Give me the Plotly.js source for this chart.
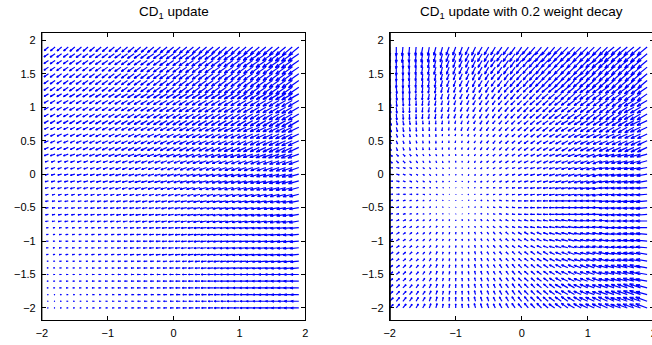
<!DOCTYPE html>
<html><head><meta charset="utf-8">
<script src="https://cdn.plot.ly/plotly-3.0.1.min.js"></script>
<style>html,body{margin:0;padding:0;background:#fff;overflow:hidden;width:652px;height:345px}#chart{width:660px;height:345px}</style>
</head><body><div id="chart"></div>
<script>
// ---- data ----
const xGrid = [-2,-1.9,-1.8,-1.7,-1.6,-1.5,-1.4,-1.3,-1.2,-1.1,-1,-0.9,-0.8,-0.7,-0.6,-0.5,-0.4,-0.3,-0.2,-0.1,0,0.1,0.2,0.3,0.4,0.5,0.6,0.7,0.8,0.9,1,1.1,1.2,1.3,1.4,1.5,1.6,1.7,1.8,1.9];
const yGrid = [1.9,1.8,1.7,1.6,1.5,1.4,1.3,1.2,1.1,1,0.9,0.8,0.7,0.6,0.5,0.4,0.3,0.2,0.1,0,-0.1,-0.2,-0.3,-0.4,-0.5,-0.6,-0.7,-0.8,-0.9,-1,-1.1,-1.2,-1.3,-1.4,-1.5,-1.6,-1.7,-1.8,-1.9,-2];
const xTicks = [-2,-1,0,1,2];
const xTickText = ["\u22122","\u22121","0","1","2"];
const yTicks = [-2,-1.5,-1,-0.5,0,0.5,1,1.5,2];
const yTickText = ["\u22122","\u22121.5","\u22121","\u22120.5","0","0.5","1","1.5","2"];
const titleLeft = "CD<sub>1</sub> update";
const titleRight = "CD<sub>1</sub> update with 0.2 weight decay";

// direction code: index * 5 degrees ; length code: index * 0.5 (reading units)
const ANGLE_CODES = "0123456789abcdefghijklmnopqrstuvwxyzABCDEFGHIJKLMNOPQRSTUVWXYZ!#$%&*+-=?";
const LENGTH_CODES = "0123456789abcdefghijklmnopqrstuvwxyz";

// rows from top (y=1.9) to bottom (y=-2), columns from x=-2 to x=1.9
const leftAngle = [
"IIIIIIIIIIIIIIIIIIIIIIIIIIIIIIIIIIIIIIII",
"HHHHHHHHHHHHHHHHHHHHHHHHHHHHHHHHHHHHHHHH",
"HHHHHHHHHHHHHHHHHHHHHHHHHHHHHHHHHHHHHHHH",
"HHHHHHHHHHHHHHHHHHHHHHHHHHHHHHHHHHHHHHHH",
"HHHHHHHHHHHHHHHHHHHHHHHHHHHHHHHHHHHHHHHH",
"HHHHHHHHHHHHHHHHHHHHHHHHHHHHHHHHHHHHHHHH",
"HHHHHHHHHHHHHHHHHHHHHHHHHHHHHHHHHHHHHHHH",
"GGGGGGGGGGGGGGGGGGGGGGGGGGGGGGGGGGGGGGGG",
"GGGGGGGGGGGGGGGGGGGGGGGGGGGGGGGGGGGGGGGG",
"GGGGGGGGGGGGGGGGGGGGGGGGGGGGGGGGGGGGGGGG",
"GGGGGGGGGGGGGGGGGGGGGGGGGGGGGGGGGGGGGGGG",
"GGGGGGGGGGGGGGGGGGGGGGGGGGGGGGGGGGGGGGGG",
"FFFFFFFFFFFFFFFFFFFFFFFFFFFFFFFFFFFFFFFF",
"FFFFFFFFFFFFFFFFFFFFFFFFFFFFFFFFFFFFFFFF",
"FFFFFFFFFFFFFFFFFFFFFFFFFFFFFFFFFFFFFFFF",
"FFFFFFFFFFFFFFFFFFFFFFFFFFFFFFFFFFFFFFFF",
"EEEEEEEEEEEEEEEEEEEEEEEEEEEEEEEEEEEEEEEE",
"EEEEEEEEEEEEEEEEEEEEEEEEEEEEEEEEEEEEEEEE",
"EEEEEEEEEEEEEEEEEEEEEEEEEEEEEEEEEEEEEEEE",
"DDDDDDDDDDDDDDDDDDDDDDDDDDDDDDDDDDDDDDDD",
"DDDDDDDDDDDDDDDDDDDDDDDDDDDDDDDDDDDDDDDD",
"DDDDDDDDDDDDDDDDDDDDDDDDDDDDDDDDDDDDDDDD",
"DDDDDDDDDDDDDDDDDDDDDDDDDDDDDDDDDDDDDDDD",
"CCCCCCCCCCCCCCCCCCCCCCCCCCCCCCCCCCCCCCCC",
"CCCCCCCCCCCCCCCCCCCCCCCCCCCCCCCCCCCCCCCC",
"CCCCCCCCCCCCCCCCCCCCCCCCCCCCCCCCCCCCCCCC",
"CCCCCCCCCCCCCCCCCCCCCCCCCCCCCCCCCCCCCCCC",
"BBBBBBBBBBBBBBBBBBBBBBBBBBBBBBBBBBBBBBBB",
"BBBBBBBBBBBBBBBBBBBBBBBBBBBBBBBBBBBBBBBB",
"BBBBBBBBBBBBBBBBBBBBBBBBBBBBBBBBBBBBBBBB",
"BBBBBBBBBBBBBBBBBBBBBBBBBBBBBBBBBBBBBBBB",
"BBBBBBBBBBBBBBBBBBBBBBBBBBBBBBBBBBBBBBBB",
"BBBBBBBBBBBBBBBBBBBBBBBBBBBBBBBBBBBBBBBB",
"BBBBBBBBBBBBBBBBBBBBBBBBBBBBBBBBBBBBBBBB",
"AAAAAAAAAAAAAAAAAAAAAAAAAAAAAAAAAAAAAAAA",
"AAAAAAAAAAAAAAAAAAAAAAAAAAAAAAAAAAAAAAAA",
"AAAAAAAAAAAAAAAAAAAAAAAAAAAAAAAAAAAAAAAA",
"AAAAAAAAAAAAAAAAAAAAAAAAAAAAAAAAAAAAAAAA",
"AAAAAAAAAAAAAAAAAAAAAAAAAAAAAAAAAAAAAAAA",
"AAAAAAAAAAAAAAAAAAAAAAAAAAAAAAAAAAAAAAAA"
];
const leftLength = [
"bbcccddddeeeffggghhiiijjkkkllmmmnnooppqq",
"bbcccddddeeeffggghhiiijjkkkllmmmnnooppqq",
"bbcccddddeeeffggghhiiijjkkkllmmmnnooppqq",
"bbcccddddeeeffggghhiiijjjkkkklllmmnnoopp",
"bbcccddddeeeffggghhiiijjjkkkklllmmnnoopp",
"bbcccddddeeeffggghhiiijjjkkkklllmmnnoopp",
"bbcccddddeeeffggghhiiijjjkkkklllmmnnoopp",
"aabbbccccdddeefffgghhhiiijjjjkkkllmmnnoo",
"aabbbccccdddeefffgghhhiiijjjjkkkllmmnnoo",
"aabbbccccdddeefffgghhhiiijjjjkkkllmmnnoo",
"aabbbccccdddeefffgghhhiiijjjjkkkllmmnnoo",
"aabbbccccdddeefffgghhhiiijjjjkkkllmmnnoo",
"99aaaabbbcccdddeeeefffgghhhiijjjkkllmmnn",
"99aaaabbbcccdddeeeefffgghhhiijjjkkllmmnn",
"99aaaabbbcccdddeeeefffgghhhiijjjkkllmmnn",
"99aaaabbbcccdddeeeefffgghhhiijjjkkllmmnn",
"99aaaabbbcccdddeeeefffgghhhiijjjkkllmmnn",
"778889999aaabbbccccdddeefffgghhhiijjkkll",
"778889999aaabbbccccdddeefffgghhhiijjkkll",
"778889999aaabbbccccdddeefffgghhhiijjkkll",
"778889999aaabbbccccdddeefffgghhhiijjkkll",
"778889999aaabbbccccdddeefffgghhhiijjkkll",
"666777778888999aaaabbbccdddeefffgghhiijj",
"666777778888999aaaabbbccdddeefffgghhiijj",
"666777778888999aaaabbbccdddeefffgghhiijj",
"666777778888999aaaabbbccdddeefffgghhiijj",
"666777778888999aaaabbbccdddeefffgghhiijj",
"4445555566667788899aaabbcccddeeeffgghhii",
"4445555566667788899aaabbcccddeeeffgghhii",
"4445555566667788899aaabbcccddeeeffgghhii",
"4445555566667788899aaabbcccddeeeffgghhii",
"4445555566667788899aaabbcccddeeeffgghhii",
"33344444555566677778899aabbccdddeeffgghh",
"33344444555566677778899aabbccdddeeffgghh",
"33344444555566677778899aabbccdddeeffgghh",
"33344444555566677778899aabbccdddeeffgghh",
"33344444555566677778899aabbccdddeeffgghh",
"2223333344445556666778899aabbcccddeeffgg",
"2223333344445556666778899aabbcccddeeffgg",
"2223333344445556666778899aabbcccddeeffgg"
];
const rightAngle = [
"SSRRRQQPPOOONNMMMLLLLKKKKKJJJJJJJJIIIIII",
"SSRRRQQPPOOONNMMMLLLLKKKKKJJJJJJJJIIIIII",
"SSSRRQQPPOONNNMMLLLLKKKKJJJJJJJIIIIIIIII",
"SSSRRQQPPOONNNMMLLLLKKKKJJJJJJJIIIIIIIII",
"SSSRRRQQPOONNNMMLLLKKKKJJJJJJIIIIIIIIIII",
"SSSRRRQQPOONNNMMLLLKKKKJJJJJJIIIIIIIIIII",
"TTSSRRQQPPONNNMMLLKKJJJJIIIIIIHHHHHHHHHH",
"TTSSRRQQPPONNNMMLLKKJJJJIIIIIIHHHHHHHHHH",
"UTTSSRQQPPONNMMLLKKJJJIIIIHHHHHHHHHHHGGG",
"UTTSSRQQPPONNMMLLKKJJJIIIIHHHHHHHHHHHGGG",
"UTTSSRQQPPONNMMLLKKJJJIIIIHHHHHHHHHHHGGG",
"WVUUTTSRQQPONMMLKKJJIIIHHHHGGGGGGGGGGGFF",
"WVUUTTSRQQPONMMLKKJJIIIHHHHGGGGGGGGGGGFF",
"XWWVVUTSRQPONMLKKJJIIHHHGGGGGFFFFFFFFFFF",
"XWWVVUTSRQPONMLKKJJIIHHHGGGGGFFFFFFFFFFF",
"XWWVVUTSRQPONMLKKJJIIHHHGGGGGFFFFFFFFFFF",
"$##!ZYXWUTSQOMKIIHHGGFFFFEEEEEEEEDDDDDDD",
"$##!ZYXWUTSQOMKIIHHGGFFFFEEEEEEEEDDDDDDD",
"=-+*&%#ZYWUROMJGGFFEEDDDDDDDDDDDDCCCCCCC",
"=-+*&%#ZYWUROMJGGFFEEDDDDDDDDDDDDCCCCCCC",
"=-+*&%#ZYWUROMJGGFFEEDDDDDDDDDDDDCCCCCCC",
"00???==-+%YMFDCCCCCCCCCCCCCCCCCCCBBBBBBB",
"00???==-+%YMFDCCCCCCCCCCCCCCCCCCCBBBBBBB",
"33344469begjmqtwxxyzAAAAAAAAAAAAABBBBBBB",
"33344469begjmqtwxxyzAAAAAAAAAAAAABBBBBBB",
"33344469begjmqtwxxyzAAAAAAAAAAAAABBBBBBB",
"5556679bdfhjloqtuuvwxxyyyyyyyzzzzzAAAAAA",
"5556679bdfhjloqtuuvwxxyyyyyyyzzzzzAAAAAA",
"677889bcefhjkmnpqrstuuvvwxxxxyyyyyzzzzzz",
"677889bcefhjkmnpqrstuuvvwxxxxyyyyyzzzzzz",
"677889bcefhjkmnpqrstuuvvwxxxxyyyyyzzzzzz",
"78899acdfgijklmopqrrsttuuvwwwxxxxxyyyyyy",
"78899acdfgijklmopqrrsttuuvwwwxxxxxyyyyyy",
"889aabcefgijklmnoppqrssttuuvvwwwwxxxxxxy",
"889aabcefgijklmnoppqrssttuuvvwwwwxxxxxxy",
"889aabcefgijklmnoppqrssttuuvvwwwwxxxxxxy",
"999abbdefgijklmmnoppqrrsstuuuvvwwwwwwwwx",
"999abbdefgijklmmnoppqrrsstuuuvvwwwwwwwwx",
"9aabccefghijklmmnoopqqrrstttuuvvvvvwwwww",
"9aabccefghijklmmnoopqqrrstttuuvvvvvwwwww"
];
const rightLength = [
"iiihhhhhhhhhhiiiiijjjjkklllmmnnnoopppqqq",
"iiihhhhhhhhhhiiiiijjjjkklllmmnnnoopppqqq",
"hhggfffffffffggggghhhhiijjkkllmmnnoooopp",
"hhggfffffffffggggghhhhiijjkkllmmnnoooopp",
"fffeeeeedddddeeeeffggghhiijjkkllmmnnnnoo",
"fffeeeeedddddeeeeffggghhiijjkkllmmnnnnoo",
"edddccccbbbbbccccddeeeffgghiijjkkllmmnno",
"edddccccbbbbbccccddeeeffgghiijjkkllmmnno",
"ccbbaaaa99999aaaabbccddeefgghhijjkklmmnn",
"ccbbaaaa99999aaaabbccddeefgghhijjkklmmnn",
"ccbbaaaa99999aaaabbccddeefgghhijjkklmmnn",
"a998877776677788899aabccddeffghiijjkllmm",
"a998877776677788899aabccddeffghiijjkllmm",
"776655554444556677889aabbcdeefghhiijkkll",
"776655554444556677889aabbcdeefghhiijkkll",
"776655554444556677889aabbcdeefghhiijkkll",
"76655444433344556677899aabcdeefghhijkkll",
"76655444433344556677899aabcdeefghhijkkll",
"665544433222334455667899abcddefghhijkkll",
"665544433222334455667899abcddefghhijkkll",
"665544433222334455667899abcddefghhijkkll",
"665544332111223445567899abcddefghhijkkll",
"665544332111223445567899abcddefghhijkkll",
"655443322111223345567899abcddefghhijkllm",
"655443322111223345567899abcddefghhijkllm",
"655443322111223345567899abcddefghhijkllm",
"666554443323334455667899abcddefghhijkllm",
"666554443323334455667899abcddefghhijkllm",
"77665555444445556677899aabcddefghhijkllm",
"77665555444445556677899aabcddefghhijkllm",
"77665555444445556677899aabcddefghhijkllm",
"8777666655555666677889aabbcdeefghiijklmm",
"8777666655555666677889aabbcdeefghiijklmm",
"888777776666677778899aabbcdeefghiijklmmn",
"888777776666677778899aabbcdeefghiijklmmn",
"888777776666677778899aabbcdeefghiijklmmn",
"9998888877777888899aabbccdeffghiijjklmnn",
"9998888877777888899aabbccdeffghiijjklmnn",
"aaa99999888889999aabbccddefgghijjkklmnno",
"aaa99999888889999aabbccddefgghijjkklmnno"
];

// ---- layout / style ----
const W = 660, H = 345;
const M = {l: 0, r: 0, t: 33, b: 25};
const plotW = W - M.l - M.r, plotH = H - M.t - M.b;
const dom1 = [41.9 / plotW, 305.4 / plotW];
const dom2 = [389.7 / plotW, 653.7 / plotW];
const xRange = [-2, 2], yRange = [-2.18, 2.11];
const FONT = '"Liberation Sans", Arial, Helvetica, sans-serif';

function buildArrows(angleRows, lengthRows, dom) {
  const pxPerX = (dom[1] - dom[0]) * plotW / (xRange[1] - xRange[0]);
  const pxPerY = plotH / (yRange[1] - yRange[0]);
  const alpha = 0.33, beta = 0.33;
  const xs = [], ys = [];
  for (let r = 0; r < yGrid.length; r++) {
    for (let c = 0; c < xGrid.length; c++) {
      const ai = ANGLE_CODES.indexOf(angleRows[r].charAt(c));
      const li = LENGTH_CODES.indexOf(lengthRows[r].charAt(c));
      if (ai < 0 || li <= 0) continue;
      const a = ai * 5 * Math.PI / 180;
      const L = li * 0.5;
      const u = L * Math.cos(a), v = L * Math.sin(a);
      const x0 = xGrid[c], y0 = yGrid[r];
      const tx = x0 + u / pxPerX, ty = y0 + v / pxPerY;
      const b1x = x0 + (u - alpha * (u + beta * v)) / pxPerX;
      const b1y = y0 + (v - alpha * (v - beta * u)) / pxPerY;
      const b2x = x0 + (u - alpha * (u - beta * v)) / pxPerX;
      const b2y = y0 + (v - alpha * (v + beta * u)) / pxPerY;
      xs.push(x0, tx, null, b1x, tx, b2x, null);
      ys.push(y0, ty, null, b1y, ty, b2y, null);
    }
  }
  return {xs, ys};
}

const A1 = buildArrows(leftAngle, leftLength, dom1);
const A2 = buildArrows(rightAngle, rightLength, dom2);
const lineStyle = {color: 'rgb(0,0,255)', width: 1.2};
const traces = [
  {type: 'scatter', mode: 'lines', x: A1.xs, y: A1.ys, xaxis: 'x', yaxis: 'y', line: lineStyle, connectgaps: false, hoverinfo: 'skip'},
  {type: 'scatter', mode: 'lines', x: A2.xs, y: A2.ys, xaxis: 'x2', yaxis: 'y2', line: lineStyle, connectgaps: false, hoverinfo: 'skip'}
];

const axisBase = {
  showline: true, linecolor: '#000', linewidth: 1, mirror: 'ticks',
  ticks: 'inside', ticklen: 4, tickwidth: 1, tickcolor: '#000',
  showgrid: false, zeroline: false, fixedrange: true,
  tickfont: {family: FONT, size: 11, color: '#000'}
};
const xa = (dom, anchor) => Object.assign({}, axisBase, {domain: dom, range: xRange, tickmode: 'array', tickvals: xTicks, ticktext: xTickText, anchor: anchor, ticklabelstandoff: 3});
const ya = (anchor) => Object.assign({}, axisBase, {domain: [0, 1], range: yRange, tickmode: 'array', tickvals: yTicks, ticktext: yTickText, anchor: anchor, ticklabelstandoff: 3});

// the box edge drawn over the marks (as the reference's axes box covers them)
const edgeLine = (xref, w) => ({type: 'line', layer: 'above', xref: xref, yref: 'paper', x0: xRange[0], x1: xRange[0], y0: 0, y1: 1, line: {color: '#000', width: w}});

const layout = {
  width: W, height: H, margin: M,
  paper_bgcolor: '#fff', plot_bgcolor: '#fff', showlegend: false,
  xaxis: xa(dom1, 'y'), yaxis: ya('x'),
  xaxis2: xa(dom2, 'y2'), yaxis2: ya('x2'),
  shapes: [edgeLine('x', 1), edgeLine('x2', 2.2)],
  annotations: [
    {text: titleLeft, xref: 'x', yref: 'paper', x: 0, y: 1.073, xanchor: 'center', yanchor: 'middle', showarrow: false, font: {family: FONT, size: 13.5, color: '#000'}},
    {text: titleRight, xref: 'x2', yref: 'paper', x: 0, y: 1.073, xanchor: 'center', yanchor: 'middle', showarrow: false, font: {family: FONT, size: 13.5, color: '#000'}}
  ]
};
Plotly.newPlot('chart', traces, layout, {staticPlot: true, displayModeBar: false});
</script>
</body></html>
